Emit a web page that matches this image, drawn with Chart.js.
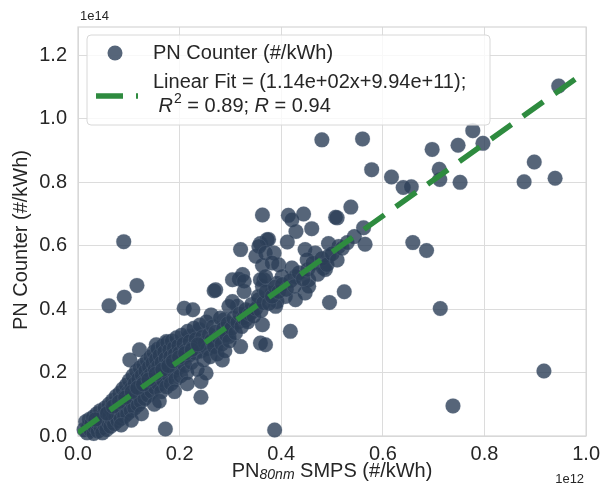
<!DOCTYPE html>
<html>
<head>
<meta charset="utf-8">
<script src="https://cdn.jsdelivr.net/npm/chart.js@4.4.1/dist/chart.umd.min.js"></script>
<style>
  html, body { margin: 0; padding: 0; background: #fff; }
</style>
</head>
<body>
<canvas id="grafica" width="606" height="492"></canvas>
<script>
// valores en unidades de los ejes: x en 1e12, y en 1e14
const smpsX = [
  0.946, 0.777, 0.797, 0.748, 0.697, 0.711, 0.712, 0.752, 0.617, 0.640, 0.656, 0.578, 0.480, 0.560,
  0.898, 0.878, 0.939, 0.659, 0.686, 0.713, 0.917, 0.738,
  0.524, 0.495, 0.565, 0.562, 0.537, 0.510, 0.507, 0.544, 0.460, 0.444, 0.493, 0.513, 0.467, 0.447,
  0.483, 0.454, 0.447, 0.363, 0.414, 0.421, 0.429,
  0.320, 0.359, 0.372, 0.412, 0.350, 0.386, 0.363, 0.395, 0.451, 0.493, 0.421, 0.428, 0.454, 0.487,
  0.402, 0.392, 0.366, 0.363, 0.324, 0.327, 0.382, 0.408, 0.356, 0.392, 0.343,
  0.304, 0.317, 0.271, 0.209, 0.226, 0.262, 0.314, 0.337, 0.363, 0.418, 0.320, 0.359, 0.369, 0.297,
  0.154, 0.174, 0.239, 0.288, 0.330, 0.219, 0.389, 0.428, 0.268, 0.304, 0.284, 0.271, 0.327, 0.297,
  0.359, 0.369, 0.375, 0.356, 0.369, 0.382,
  0.242, 0.242, 0.252, 0.121, 0.102, 0.090, 0.061, 0.091, 0.116, 0.172, 0.387,
  0.012, 0.015, 0.018, 0.020, 0.022, 0.025, 0.027, 0.030, 0.031, 0.033, 0.035, 0.037, 0.039, 0.040,
  0.042, 0.044, 0.045, 0.047, 0.048, 0.050,
  0.052, 0.053, 0.055, 0.056, 0.058, 0.060, 0.061, 0.062, 0.064, 0.065, 0.067, 0.068, 0.070, 0.071,
  0.072, 0.074, 0.075, 0.076, 0.078, 0.079, 0.080, 0.082, 0.083, 0.084, 0.086, 0.087, 0.088, 0.090,
  0.091, 0.092, 0.094, 0.095, 0.096, 0.097, 0.099,
  0.100, 0.101, 0.103, 0.104, 0.105, 0.107, 0.108, 0.110, 0.111, 0.112, 0.114, 0.115, 0.116, 0.118,
  0.119, 0.120, 0.122, 0.123, 0.124, 0.126, 0.127, 0.129, 0.130, 0.131, 0.133, 0.134, 0.136, 0.137,
  0.138, 0.140, 0.141, 0.143, 0.144, 0.145, 0.147, 0.148, 0.149,
  0.151, 0.152, 0.154, 0.155, 0.157, 0.158, 0.159, 0.161, 0.162, 0.164, 0.165, 0.167, 0.168, 0.170,
  0.171, 0.173, 0.174, 0.176, 0.177, 0.179, 0.180, 0.182, 0.183, 0.185, 0.186, 0.188, 0.189, 0.191,
  0.192, 0.194, 0.195, 0.197, 0.198,
  0.200, 0.202, 0.204, 0.206, 0.208, 0.210, 0.212, 0.214, 0.216, 0.218, 0.220, 0.223, 0.225, 0.228,
  0.230, 0.232, 0.235, 0.237, 0.240, 0.242, 0.245, 0.247, 0.250, 0.253, 0.255, 0.258, 0.260, 0.263,
  0.266, 0.268, 0.271, 0.274, 0.277, 0.280, 0.283, 0.286, 0.289, 0.292, 0.295, 0.298,
  0.302, 0.306, 0.310, 0.314, 0.318, 0.322, 0.326, 0.330, 0.334, 0.338, 0.342, 0.346, 0.350, 0.355,
  0.360, 0.365, 0.370, 0.376, 0.382, 0.388, 0.395, 0.402, 0.410, 0.418, 0.426, 0.435, 0.443, 0.452,
  0.462, 0.472, 0.480, 0.490, 0.500, 0.510, 0.520, 0.530,
  0.085, 0.105, 0.125, 0.150, 0.160, 0.190, 0.215,
  0.034, 0.057, 0.069, 0.081, 0.093, 0.106, 0.117, 0.128, 0.139, 0.153, 0.166, 0.178, 0.187, 0.199,
  0.211, 0.224, 0.236
];
const counterY = [
  1.104, 0.963, 0.923, 0.917, 0.904, 0.841, 0.809, 0.800, 0.817, 0.784, 0.786, 0.840, 0.934, 0.937,
  0.864, 0.802, 0.813, 0.610, 0.585, 0.402, 0.205, 0.095,
  0.455, 0.421, 0.605, 0.657, 0.722, 0.688, 0.690, 0.629, 0.654, 0.700, 0.607, 0.598, 0.577, 0.588,
  0.530, 0.493, 0.451, 0.697, 0.696, 0.682, 0.645,
  0.588, 0.607, 0.619, 0.612, 0.567, 0.577, 0.538, 0.540, 0.556, 0.567, 0.530, 0.503, 0.472, 0.525,
  0.503, 0.482, 0.493, 0.472, 0.509, 0.456, 0.451, 0.440, 0.430, 0.424, 0.393,
  0.493, 0.495, 0.461, 0.403, 0.398, 0.382, 0.409, 0.393, 0.351, 0.330, 0.282, 0.293, 0.288, 0.314,
  0.288, 0.298, 0.335, 0.367, 0.367, 0.314, 0.409, 0.430, 0.458, 0.424, 0.240, 0.282, 0.488, 0.409,
  0.493, 0.503, 0.620, 0.598, 0.577, 0.546,
  0.122, 0.172, 0.198, 0.272, 0.240, 0.613, 0.411, 0.438, 0.475, 0.022, 0.019,
  0.020, 0.045, 0.010, 0.030, 0.052, 0.018, 0.040, 0.060, 0.008, 0.028, 0.048, 0.070, 0.015, 0.038,
  0.058, 0.080, 0.025, 0.045, 0.010, 0.066,
  0.035, 0.088, 0.055, 0.020, 0.075, 0.042, 0.100, 0.062, 0.030, 0.085, 0.050, 0.112, 0.072, 0.038,
  0.095, 0.060, 0.125, 0.082, 0.048, 0.105, 0.068, 0.135, 0.090, 0.055, 0.115, 0.078, 0.148, 0.100,
  0.062, 0.125, 0.088, 0.160, 0.110, 0.070, 0.138,
  0.095, 0.175, 0.120, 0.080, 0.150, 0.105, 0.190, 0.135, 0.088, 0.165, 0.118, 0.205, 0.148, 0.098,
  0.180, 0.128, 0.215, 0.160, 0.108, 0.192, 0.140, 0.225, 0.172, 0.118, 0.205, 0.150, 0.238, 0.185,
  0.128, 0.218, 0.162, 0.250, 0.195, 0.140, 0.230, 0.172, 0.265,
  0.208, 0.152, 0.242, 0.185, 0.275, 0.220, 0.162, 0.255, 0.198, 0.140, 0.232, 0.285, 0.175, 0.265,
  0.212, 0.245, 0.155, 0.295, 0.228, 0.190, 0.272, 0.250, 0.165, 0.300, 0.235, 0.205, 0.278, 0.258,
  0.178, 0.310, 0.240, 0.215, 0.285,
  0.262, 0.190, 0.318, 0.245, 0.290, 0.222, 0.270, 0.200, 0.330, 0.255, 0.298, 0.232, 0.278, 0.340,
  0.262, 0.305, 0.210, 0.285, 0.350, 0.268, 0.312, 0.240, 0.295, 0.360, 0.275, 0.320, 0.250, 0.302,
  0.345, 0.282, 0.328, 0.258, 0.310, 0.372, 0.290, 0.338, 0.268, 0.318, 0.355, 0.300,
  0.340, 0.372, 0.325, 0.358, 0.385, 0.345, 0.372, 0.398, 0.360, 0.385, 0.415, 0.378, 0.402, 0.440,
  0.395, 0.420, 0.455, 0.418, 0.440, 0.470, 0.455, 0.478, 0.462, 0.490, 0.472, 0.515, 0.495, 0.525,
  0.545, 0.510, 0.560, 0.540, 0.575, 0.555, 0.592, 0.610,
  0.035, 0.050, 0.070, 0.100, 0.110, 0.140, 0.165,
  0.052, 0.071, 0.093, 0.108, 0.121, 0.139, 0.152, 0.163, 0.178, 0.196, 0.209, 0.221, 0.236, 0.248,
  0.261, 0.272, 0.289
];

// recta de ajuste (extremos)
const fitX = [0.0, 1.0];
const fitY = [0.010, 1.150];

const xTicks = [0.0, 0.2, 0.4, 0.6, 0.8, 1.0];
const yTicks = [0.0, 0.2, 0.4, 0.6, 0.8, 1.0, 1.2];

const serieLabel = "PN Counter (#/kWh)";
const fitLabel = "Linear Fit = (1.14e+02x+9.94e+11);";
const r2Text = "0.89";
const rText = "0.94";

const FONT = "'Liberation Sans', Arial, sans-serif";
const puntoColor = "rgba(44, 62, 88, 0.8)";
const verde = "#2e8b3f";
const guiones = [25, 14];

const puntos = smpsX.map((x, i) => ({ x: x, y: counterY[i] }));
const ajuste = fitX.map((x, i) => ({ x: x, y: fitY[i] }));

// textos extra: títulos, offsets y leyenda
const extras = {
  id: "extras",
  beforeDatasetsDraw(chart) {
    const { ctx, chartArea: a } = chart;
    ctx.save();
    ctx.strokeStyle = "#d6d6d6";
    ctx.lineWidth = 1.2;
    ctx.strokeRect(a.left, a.top, a.right - a.left, a.bottom - a.top);
    ctx.restore();
  },
  afterDraw(chart) {
    const { ctx, chartArea: a } = chart;
    ctx.save();
    ctx.fillStyle = "#262626";
    ctx.textBaseline = "middle";

    // offsets
    ctx.font = "13px " + FONT;
    ctx.textAlign = "left";
    ctx.fillText("1e14", a.left + 2, 16);
    ctx.textAlign = "right";
    ctx.fillText("1e12", a.right - 2, 479);

    // titulo eje x con subindice
    const cx = (a.left + a.right) / 2;
    const ty = 471;
    const p1 = "PN", sub = "80nm", p2 = " SMPS (#/kWh)";
    ctx.font = "20px " + FONT;
    const w1 = ctx.measureText(p1).width;
    const w3 = ctx.measureText(p2).width;
    ctx.font = "italic 14px " + FONT;
    const w2 = ctx.measureText(sub).width;
    let x = cx - (w1 + w2 + w3) / 2;
    ctx.textAlign = "left";
    ctx.font = "20px " + FONT;
    ctx.fillText(p1, x, ty);
    x += w1;
    ctx.font = "italic 14px " + FONT;
    ctx.fillText(sub, x, ty + 4);
    x += w2;
    ctx.font = "20px " + FONT;
    ctx.fillText(p2, x, ty);

    // titulo eje y
    ctx.save();
    ctx.translate(21, 240);
    ctx.rotate(-Math.PI / 2);
    ctx.textAlign = "center";
    ctx.fillText(serieLabel, 0, 0);
    ctx.restore();

    // leyenda
    const lx = 87, ly = 35, lw = 403, lh = 90;
    ctx.beginPath();
    ctx.roundRect(lx, ly, lw, lh, 4);
    ctx.fillStyle = "rgba(255,255,255,0.8)";
    ctx.fill();
    ctx.strokeStyle = "#d8d8d8";
    ctx.lineWidth = 1;
    ctx.stroke();

    ctx.beginPath();
    ctx.arc(115, 53, 7.5, 0, Math.PI * 2);
    ctx.fillStyle = puntoColor;
    ctx.fill();

    ctx.beginPath();
    ctx.setLineDash([27, 13]);
    ctx.moveTo(96, 96);
    ctx.lineTo(138, 96);
    ctx.strokeStyle = verde;
    ctx.lineWidth = 5.5;
    ctx.stroke();
    ctx.setLineDash([]);

    ctx.fillStyle = "#262626";
    ctx.font = "20px " + FONT;
    ctx.textAlign = "left";
    ctx.fillText(serieLabel, 153, 53);
    ctx.fillText(fitLabel, 153, 82);

    // linea R^2
    let rx = 153 + ctx.measureText(" ").width;
    const ry = 106;
    ctx.font = "italic 20px " + FONT;
    ctx.fillText("R", rx, ry);
    rx += ctx.measureText("R").width + 1;
    ctx.font = "14px " + FONT;
    ctx.fillText("2", rx, ry - 7);
    rx += ctx.measureText("2").width;
    ctx.font = "20px " + FONT;
    const mid = " = " + r2Text + "; ";
    ctx.fillText(mid, rx, ry);
    rx += ctx.measureText(mid).width;
    ctx.font = "italic 20px " + FONT;
    ctx.fillText("R", rx, ry);
    rx += ctx.measureText("R").width;
    ctx.font = "20px " + FONT;
    ctx.fillText(" = " + rText, rx, ry);

    ctx.restore();
  }
};

function soloTicks(lista) {
  return function (scale) {
    scale.ticks = lista.map(v => ({ value: v }));
  };
}

new Chart(document.getElementById("grafica"), {
  type: "scatter",
  data: {
    datasets: [
      {
        label: serieLabel,
        data: puntos,
        backgroundColor: puntoColor,
        borderColor: "rgba(120, 135, 155, 0.35)",
        borderWidth: 0.6,
        pointRadius: 7.5,
        pointHoverRadius: 7.5,
        clip: 10,
        order: 2
      },
      {
        type: "line",
        label: fitLabel,
        data: ajuste,
        borderColor: verde,
        borderWidth: 5.5,
        borderDash: guiones,
        pointRadius: 0,
        fill: false,
        order: 1
      }
    ]
  },
  options: {
    responsive: false,
    animation: false,
    devicePixelRatio: 1,
    layout: { padding: { top: 27, right: 17, left: 0, bottom: 0 } },
    plugins: {
      legend: { display: false },
      tooltip: { enabled: false }
    },
    scales: {
      x: {
        type: "linear",
        min: 0,
        max: 1.0,
        afterBuildTicks: soloTicks(xTicks),
        afterFit: s => { s.height = 56; },
        ticks: {
          callback: v => v.toFixed(1),
          font: { family: FONT, size: 20 },
          color: "#262626",
          padding: 6,
          maxRotation: 0
        },
        grid: { color: "#dcdcdc", lineWidth: 1, drawTicks: false },
        border: { display: false }
      },
      y: {
        type: "linear",
        min: 0,
        max: 1.29,
        afterBuildTicks: soloTicks(yTicks),
        afterFit: s => { s.width = 78; },
        ticks: {
          callback: v => v.toFixed(1),
          font: { family: FONT, size: 20 },
          color: "#262626",
          padding: 11
        },
        grid: { color: "#dcdcdc", lineWidth: 1, drawTicks: false },
        border: { display: false }
      }
    }
  },
  plugins: [extras]
});
</script>
</body>
</html>
